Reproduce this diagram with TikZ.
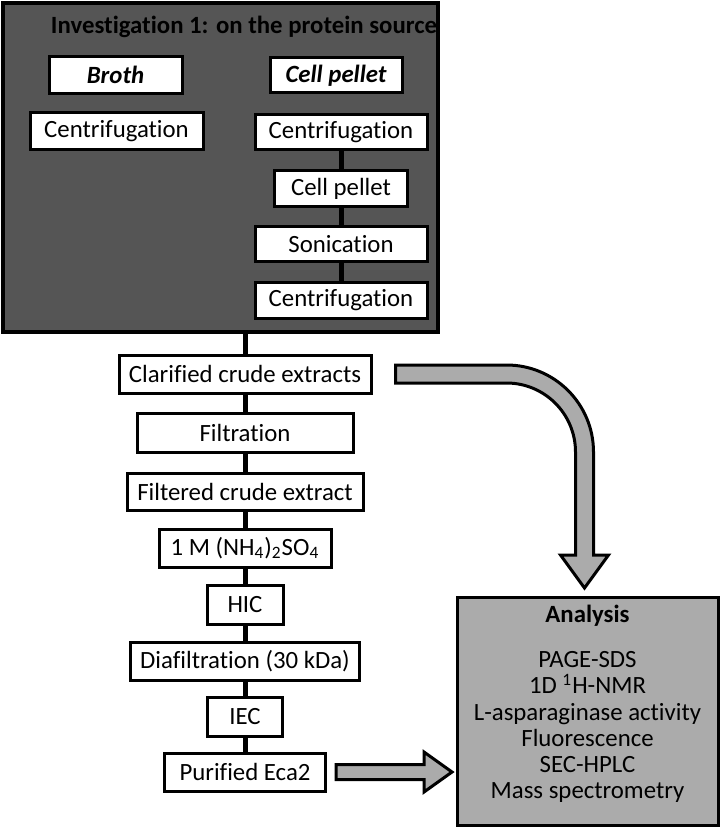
\documentclass[tikz,border=0pt]{standalone}
\usepackage{fontspec}
\setmainfont{Carlito}[Ligatures=NoCommon]
\usetikzlibrary{positioning,calc}

\definecolor{darkfill}{HTML}{555555}
\definecolor{greyfill}{HTML}{ABABAB}

\begin{document}
\begin{tikzpicture}[
    x=0.5pt, y=-0.5pt, line join=miter,
    stepbox/.style={draw=black, fill=white, line width=1.5pt, inner sep=0pt,
      minimum height=18.5pt, font=\fontsize{12.4}{14}\selectfont},
    link/.style={line width=2.5pt},
    blockarrow/.style={draw=black, fill=greyfill, line width=1.5pt},
  ]
  \useasboundingbox (0,0) rectangle (722,828);

  % --- investigation 1: protein source ---
  \node[draw=black, fill=darkfill, line width=2pt, minimum width=217.5pt,
        minimum height=164.5pt, inner sep=0pt] (src) at (220.5,167.5) {};
  \node[font=\fontsize{12.4}{14}\selectfont\bfseries] (title) at (244,27)
    {Investigation 1: on the protein source};

  \node[stepbox, minimum width=66.5pt, font=\fontsize{12.4}{14}\selectfont\bfseries\itshape]
    (broth) at (115.5,75) {Broth};
  \node[stepbox, minimum width=86.5pt] (cen1) at (116.5,131.5) {Centrifugation};

  \node[stepbox, minimum width=66pt, minimum height=17.5pt,
        font=\fontsize{12.4}{14}\selectfont\bfseries\itshape]
    (cellp) at (336,75.5) {Cell pellet};
  \node[stepbox, minimum width=86pt, minimum height=17.5pt] (cen2) at (341,132.5) {Centrifugation};
  \node[stepbox, minimum width=66.5pt, minimum height=18pt] (pellet) at (341,189) {Cell pellet};
  \node[stepbox, minimum width=86pt, minimum height=17.5pt] (son) at (341,244.5) {Sonication};
  \node[stepbox, minimum width=86pt, minimum height=17.5pt] (cen3) at (341,300.5) {Centrifugation};

  \draw[link] (cen2.south) -- (pellet.north);
  \draw[link] (pellet.south) -- (son.north);
  \draw[link] (son.south) -- (cen3.north);

  % --- purification chain ---
  \node[stepbox, minimum width=126pt, minimum height=19pt] (clar) at (245,374) {Clarified crude extracts};
  \node[stepbox, minimum width=108pt, minimum height=19.5pt] (filt) at (245,432.5) {Filtration};
  \node[stepbox, minimum width=118pt] (filtered) at (245,491.5) {Filtered crude extract};
  \node[stepbox, minimum width=86pt, minimum height=19pt] (salt) at (245,548)
    {1 M (NH\textsubscript{4})\textsubscript{2}SO\textsubscript{4}};
  \node[stepbox, minimum width=38pt, minimum height=19.5pt] (hic) at (245,604.5) {HIC};
  \node[stepbox, minimum width=114.5pt, minimum height=19pt] (dia) at (245,661) {Diafiltration (30 kDa)};
  \node[stepbox, minimum width=37.5pt, minimum height=19.5pt] (iec) at (245,716.5) {IEC};
  \node[stepbox, minimum width=80.5pt, minimum height=19pt] (pure) at (245,772) {Purified Eca2};

  \draw[link] (clar.north) -- (clar.north |- src.south);
  \foreach \a/\b in {clar/filt, filt/filtered, filtered/salt, salt/hic,
                     hic/dia, dia/iec, iec/pure}
    \draw[link] (\a.south) -- (\b.north);

  % --- analysis ---
  \node[draw=black, fill=greyfill, line width=1.5pt, minimum width=130.5pt,
        minimum height=114pt, inner sep=0pt] (ana) at (587.5,711) {};
  \node[font=\fontsize{12.4}{13.1}\selectfont, align=center, anchor=north]
    (analist) at (587.5,598)
    {\textbf{Analysis}\\[9.5pt]
     PAGE-SDS\\
     1D \textsuperscript{1}H-NMR\\
     L-asparaginase activity\\
     Fluorescence\\
     SEC-HPLC\\
     Mass spectrometry};

  % --- block arrows ---
  \coordinate (ca) at ($(clar.east)+(23,0)$);
  \draw[blockarrow] ($(ca)+(0,-9)$) -- ++(111,0)
    arc[start angle=-90, end angle=0, radius=87] -- ++(0,103)
    -- ++(15,0) -- ++(-24,33) -- ++(-24,-33) -- ++(15,0) -- ++(0,-103)
    arc[start angle=0, end angle=-90, radius=69] -- ++(-111,0) -- cycle;

  \coordinate (pa) at ($(pure.east)+(9,0)$);
  \draw[blockarrow] ($(pa)+(0,-7.5)$) -- ++(88,0) -- ++(0,-12.5) -- ++(28,20)
    -- ++(-28,20) -- ++(0,-12.5) -- ++(-88,0) -- cycle;
\end{tikzpicture}
\end{document}
